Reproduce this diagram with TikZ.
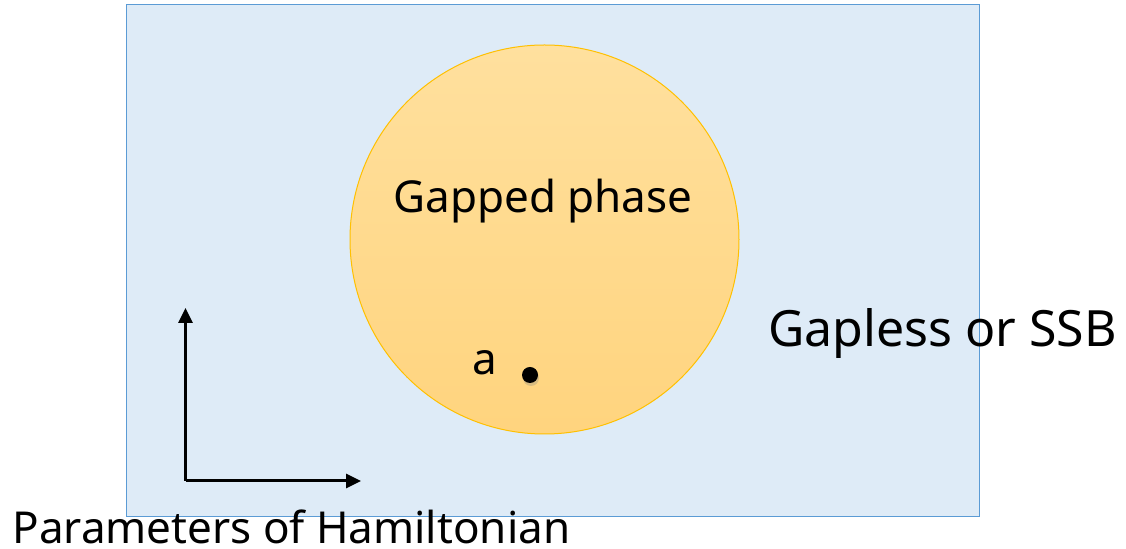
\documentclass[tikz,border=0pt]{standalone}
\usepackage{fontspec}
\setmainfont{Noto Sans}
\usepackage{xcolor}
\usetikzlibrary{arrows.meta, positioning, shadows}

\definecolor{regionblue}{HTML}{DEEBF7}
\definecolor{regionedge}{HTML}{5B9BD5}
\definecolor{phasetop}{HTML}{FFE09E}
\definecolor{phasebot}{HTML}{FFD47E}
\definecolor{phaseedge}{HTML}{FFC000}

\begin{document}
\begin{tikzpicture}[
    x=0.5pt, y=-0.5pt,
    >={Triangle[length=7.5pt, width=7pt]},
    region/.style={draw=regionedge, fill=regionblue, line width=0.5pt},
    phase/.style={circle, draw=phaseedge, line width=0.5pt, minimum size=194.5pt,
        top color=phasetop, bottom color=phasebot, inner sep=0pt},
    label/.style={font=\fontsize{22}{26}\selectfont, inner sep=0pt},
    biglabel/.style={font=\fontsize{25}{30}\selectfont, inner sep=0pt},
    axis/.style={->, line width=1.5pt},
    point/.style={circle, fill=black, minimum size=8pt, inner sep=0pt,
        drop shadow={opacity=0.3, shadow xshift=0.5pt, shadow yshift=-1.5pt}}
]

\useasboundingbox (0,0) rectangle (1126,549);

% parameter space and the gapped region
\draw[region] (126,5) rectangle (979,517);
\node[phase] (Gapped) at (544.5,239.5) {};
\node[label, anchor=base] (GappedText) at (543,213) {Gapped phase};

% a point inside the phase
\node[point] (Pt) at (530,375) {};
\node[label, anchor=base] (PtText) at (485,375) {a};

\node[biglabel, anchor=base west] (Gapless) at (768,346.5) {Gapless or SSB};

% axes
\coordinate (Origin) at (185.5,481);
\coordinate (Up) at (185.5,308);
\coordinate (Right) at (361,481);
\draw[axis] (Origin) -- (Up);
\draw[axis] (Origin) -- (Right);
\node[label, anchor=base west] (Params) at (12,544) {Parameters of Hamiltonian};

\end{tikzpicture}
\end{document}
